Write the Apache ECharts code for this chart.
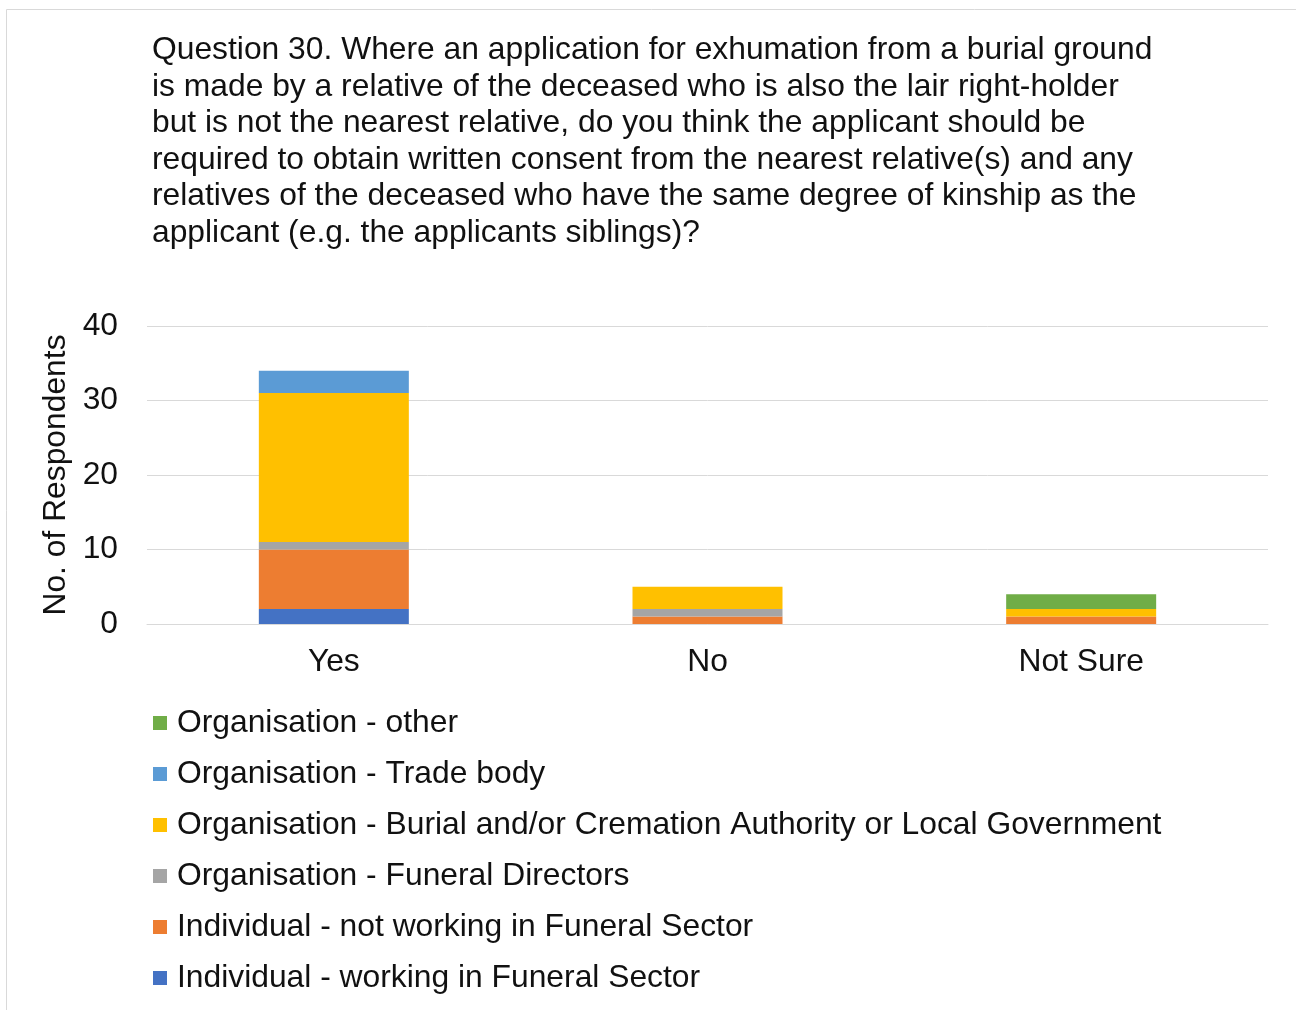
<!DOCTYPE html>
<html>
<head>
<meta charset="utf-8">
<style>
  html, body { margin: 0; padding: 0; background: #fff; }
  #chart { width: 1296px; height: 1010px; }
</style>
<script src="https://cdn.jsdelivr.net/npm/echarts@6/dist/echarts.min.js"></script>
</head>
<body>
<div id="chart"></div>
<script>
// Survey answers by respondent group
const categories = ['Yes', 'No', 'Not Sure'];
const indivWorking = [2, 0, 0];
const indivNotWorking = [8, 1, 1];
const funeralDirectors = [1, 1, 0];
const burialAuthority = [20, 3, 1];
const tradeBody = [3, 0, 0];
const orgOther = [0, 0, 2];
const yTicks = { min: 0, max: 40, interval: 10 };

const titleLines = [
  'Question 30. Where an application for exhumation from a burial ground',
  'is made by a relative of the deceased who is also the lair right-holder',
  'but is not the nearest relative, do you think the applicant should be',
  'required to obtain written consent from the nearest relative(s) and any',
  'relatives of the deceased who have the same degree of kinship as the',
  'applicant (e.g. the applicants siblings)?'
];

const seriesDefs = [
  { name: 'Individual - working in Funeral Sector', data: indivWorking, color: '#4472C4' },
  { name: 'Individual - not working in Funeral Sector', data: indivNotWorking, color: '#ED7D31' },
  { name: 'Organisation - Funeral Directors', data: funeralDirectors, color: '#A5A5A5' },
  { name: 'Organisation - Burial and/or Cremation Authority or Local Government', data: burialAuthority, color: '#FFC000' },
  { name: 'Organisation - Trade body', data: tradeBody, color: '#5B9BD5' },
  { name: 'Organisation - other', data: orgOther, color: '#70AD47' }
];

const font = 'Liberation Sans, Arial, sans-serif';
const fs = 31.8;
const ink = '#111';
const chart = echarts.init(document.getElementById('chart'), null, { renderer: 'canvas' });

chart.setOption({
  animation: false,
  textStyle: { fontFamily: font },
  graphic: [{
    type: 'rect',
    shape: { x: 6.5, y: 9.5, width: 1400, height: 1100 },
    style: { fill: 'none', stroke: '#d9d9d9', lineWidth: 1 },
    silent: true
  }],
  title: {
    text: titleLines.join('\n'),
    left: 147,
    top: 27,
    textStyle: { fontFamily: font, fontSize: fs, fontWeight: 'normal', color: ink, lineHeight: 36.6 }
  },
  legend: {
    orient: 'vertical',
    left: 148,
    top: 702,
    icon: 'rect',
    itemWidth: 14,
    itemHeight: 14,
    itemGap: 19,
    data: seriesDefs.map(s => s.name).reverse(),
    textStyle: { fontFamily: font, fontSize: fs, color: ink, lineHeight: 32, padding: [0, 0, 0, 5] }
  },
  grid: { left: 147, right: 28, top: 326, bottom: 386, containLabel: false },
  xAxis: {
    type: 'category',
    data: categories,
    axisLine: { lineStyle: { color: '#d9d9d9', width: 1 } },
    axisTick: { show: false },
    axisLabel: { fontFamily: font, fontSize: fs, color: ink, margin: 22 }
  },
  yAxis: {
    type: 'value',
    min: yTicks.min,
    max: yTicks.max,
    interval: yTicks.interval,
    name: 'No. of Respondents',
    nameLocation: 'middle',
    nameGap: 69,
    nameTextStyle: { fontFamily: font, fontSize: fs, color: ink },
    axisLine: { show: false },
    axisTick: { show: false },
    axisLabel: { fontFamily: font, fontSize: fs, color: ink, margin: 29 },
    splitLine: { lineStyle: { color: '#d9d9d9', width: 1 } }
  },
  series: seriesDefs.map(s => ({
    name: s.name,
    type: 'bar',
    stack: 'total',
    data: s.data,
    barWidth: 150,
    itemStyle: { color: s.color },
    emphasis: { disabled: true }
  }))
});
</script>
</body>
</html>
